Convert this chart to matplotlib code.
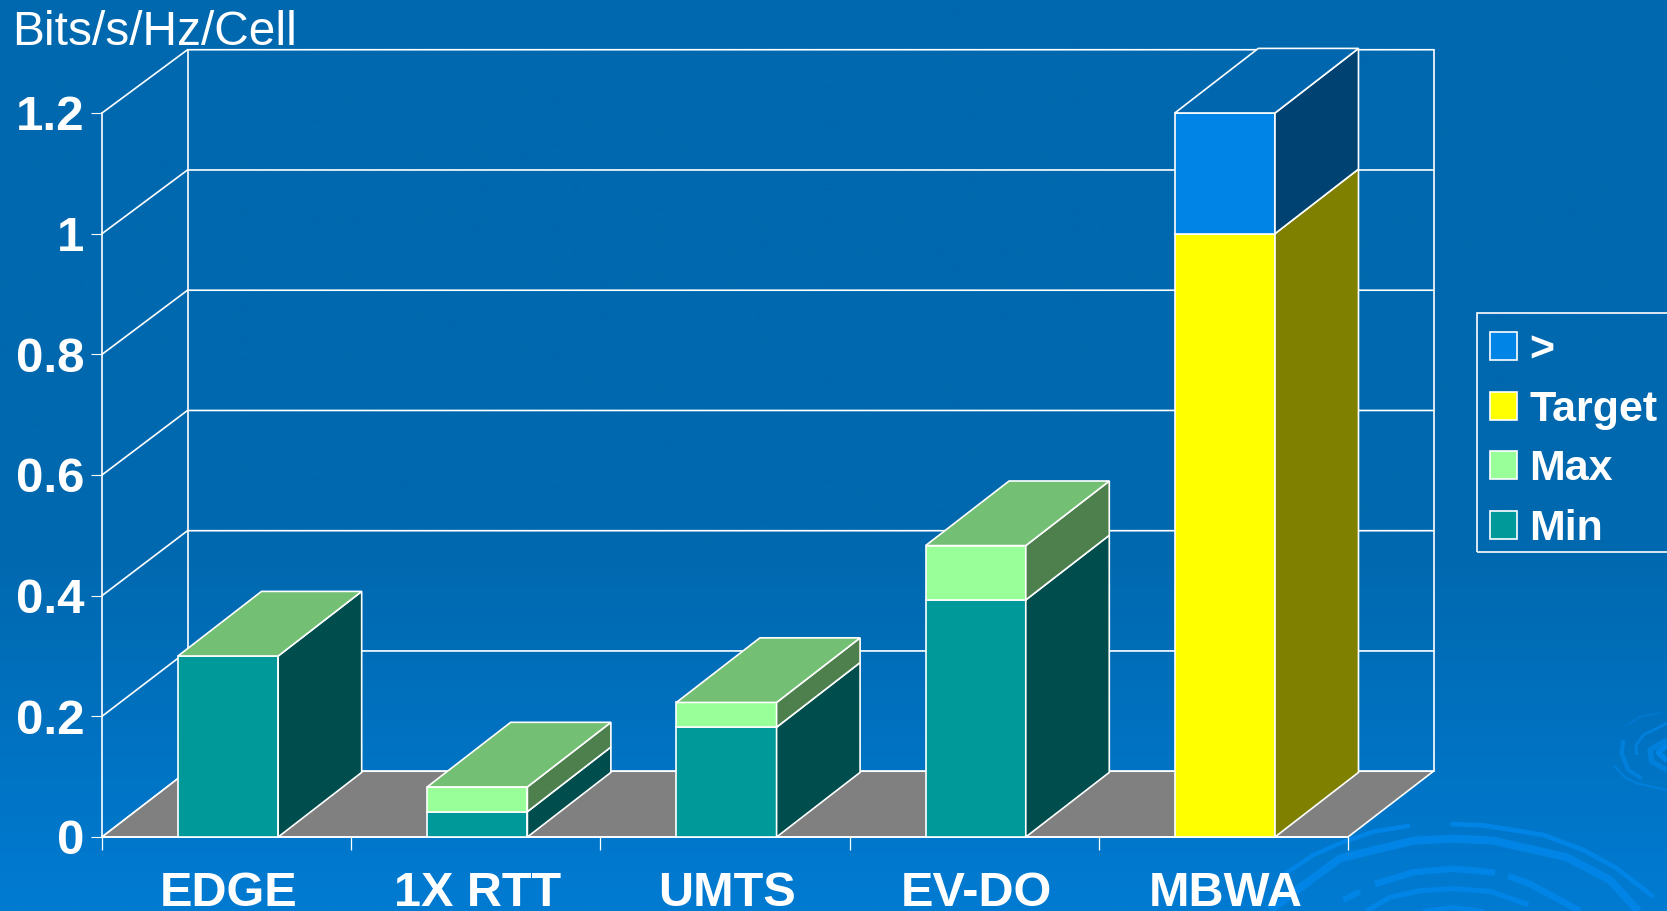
import numpy as np
import matplotlib
matplotlib.use("Agg")
import matplotlib.pyplot as plt
from matplotlib.patches import Polygon, Patch, Rectangle

# ---- data ----
categories = ["EDGE", "1X RTT", "UMTS", "EV-DO", "MBWA"]
min_top = [0.30, 0.042, 0.182, 0.393, 0.0]
max_top = [0.30, 0.083, 0.223, 0.483, 0.0]
target_top = [0.0, 0.0, 0.0, 0.0, 1.0]
beyond_top = [0.0, 0.0, 0.0, 0.0, 1.2]
y_ticks = [0, 0.2, 0.4, 0.6, 0.8, 1.0, 1.2]
y_tick_labels = ["0", "0.2", "0.4", "0.6", "0.8", "1", "1.2"]
series_names = ["Min", "Max", "Target", ">"]
series_values = [min_top, max_top, target_top, beyond_top]
front_colors = ["#009999", "#99FF99", "#FFFF00", "#0085E6"]
side_colors = ["#004D4D", "#4D804D", "#808000", "#004373"]
top_colors = ["#007373", "#73BF73", "#BFBF00", "#0066AD"]

W, H = 1667, 911
plt.rcParams["font.family"] = ["Liberation Sans", "DejaVu Sans"]
fig = plt.figure(figsize=(W / 100, H / 100), dpi=100)

# ---- gradient background and decorative ripples (pixel space) ----
bg = fig.add_axes([0, 0, 1, 1], zorder=0)
t = np.linspace(0, 1, 512)
grad = np.clip((t - 0.60) / 0.40, 0, 1).reshape(-1, 1, 1)
top_c = np.array([0x00, 0x68, 0xAE]) / 255
bot_c = np.array([0x00, 0x7B, 0xD2]) / 255
img = top_c[None, None, :] * (1 - grad) + bot_c[None, None, :] * grad
bg.imshow(img, extent=[0, W, H, 0], aspect="auto", interpolation="bilinear")
bg.set_xlim(0, W)
bg.set_ylim(H, 0)
bg.axis("off")

ripple_zoom = [
    ([602, 700, 880, 1000, 1100, 1210], [432, 436, 465, 510, 565, 650], 3.2),
    ([480, 370, 270, 190, 100], [437, 455, 490, 525, 585], 3.0),
    ([60, 270, 490, 610, 730, 950, 1080, 1165], [690, 535, 482, 476, 482, 532, 600, 693], 5.5),
    ([375, 490, 610, 735], [612, 577, 566, 578], 4.5),
    ([775, 840, 990], [588, 612, 693], 4.5),
    ([350, 420, 510, 610, 720, 835], [693, 652, 632, 626, 634, 674], 3.5),
    ([280, 330], [660, 635], 4.0),
    ([520, 610, 700], [693, 682, 693], 3.0),
]
ripple_right = [
    ([162, 195, 230, 321], [228, 262, 280, 300], 1.6, "#007FDB"),
    ([190, 185, 205, 245], [150, 190, 240, 265], 3.0, "#007FDB"),
    ([195, 240, 305], [110, 80, 68], 1.6, "#0077CC"),
    ([230, 228, 250, 321], [195, 165, 135, 100], 2.0, "#0080DC"),
    ([321, 270, 275, 321], [150, 180, 215, 240], 4.0, "#007FDB"),
    ([321, 295, 321], [165, 188, 212], 4.0, "#0085E6"),
]
for xs, ys, lw in ripple_zoom:
    bg.plot(1250 + np.array(xs) / 3, 680 + np.array(ys) / 3, color="#0085E6", lw=lw * 1.05, solid_capstyle="butt")
for xs, ys, lw, c in ripple_right:
    bg.plot(1560 + np.array(xs) / 3, 690 + np.array(ys) / 3, color=c, lw=lw, solid_capstyle="butt")

# ---- chart axes: the front plane of the 3-D box ----
L, R, B, T = 102, 1348, 837, 113
ax = fig.add_axes([L / W, (H - B) / H, (R - L) / W, (B - T) / H], zorder=1)
ax.patch.set_alpha(0)
ax.set_xlim(0, len(categories))
ax.set_ylim(0, 1.2)
DX = 85.5 / ((R - L) / 5)
DY = 65.8 / ((B - T) / 1.2)
BACK_SCALE = 0.9965
WHITE = "white"
LW = 1.2


def poly(points, color, z):
    ax.add_patch(Polygon(points, closed=True, facecolor=color, edgecolor=WHITE,
                         lw=LW, zorder=z, clip_on=False, joinstyle="miter"))


def line(xs, ys, z=1):
    ax.plot(xs, ys, color=WHITE, lw=LW, zorder=z, clip_on=False, solid_capstyle="projecting")


n = len(categories)
for v in y_ticks:
    by = v * BACK_SCALE + DY
    line([0, DX, n + DX], [v, by, by])
back_top = 1.2 * BACK_SCALE + DY
line([DX, DX], [DY, back_top])
line([n + DX, n + DX], [DY, back_top])
poly([(0, 0), (n, 0), (n + DX, DY), (DX, DY)], "#808080", 2)

BAR_W = 0.402
BAR_C = 0.506
BDX = 83.5 / ((R - L) / 5)
BDY = 64.6 / ((B - T) / 1.2)
for i in range(n):
    x0, x1 = i + BAR_C - BAR_W / 2, i + BAR_C + BAR_W / 2
    prev = 0.0
    top_color = None
    for vals, fc, sc, tc in zip(series_values, front_colors, side_colors, top_colors):
        v = vals[i]
        if v > 0:
            top_color = tc
        if v > prev:
            poly([(x0, prev), (x1, prev), (x1, v), (x0, v)], fc, 4)
            poly([(x1, prev), (x1 + BDX, prev + BDY), (x1 + BDX, v + BDY), (x1, v)], sc, 4)
            prev = v
    poly([(x0, prev), (x1, prev), (x1 + BDX, prev + BDY), (x0 + BDX, prev + BDY)], top_color, 4)

for s in ("top", "right"):
    ax.spines[s].set_visible(False)
for s in ("left", "bottom"):
    ax.spines[s].set_color(WHITE)
    ax.spines[s].set_linewidth(LW)
    ax.spines[s].set_zorder(3)

ax.set_yticks(y_ticks)
ax.set_yticklabels(y_tick_labels, fontsize=35.5, fontweight="bold", color=WHITE, va="center_baseline")
ax.tick_params(axis="y", length=8, width=0.8, color=WHITE, pad=4.5)
ax.set_xticks(np.arange(n + 1))
ax.set_xticklabels([])
ax.tick_params(axis="x", which="major", length=9.5, width=0.9, color=WHITE)
ax.set_xticks(np.arange(n) + 0.508, minor=True)
ax.set_xticklabels(categories, minor=True, fontsize=35, fontweight="bold", color=WHITE)
ax.tick_params(axis="x", which="minor", length=0, pad=24.5)

handles = [Patch(facecolor=front_colors[j], edgecolor=WHITE, lw=LW, label=series_names[j])
           for j in (3, 2, 1, 0)]
leg = fig.legend(handles=handles, loc="upper left", bbox_to_anchor=(1476 / W, 1 - 316 / H),
                 bbox_transform=fig.transFigure, frameon=False, labelcolor=WHITE,
                 handlelength=0.63, handleheight=0.63, handletextpad=0.28,
                 borderaxespad=0, borderpad=0.33, labelspacing=0.455,
                 prop={"size": 31, "weight": "bold"})
leg.set_zorder(5)
# legend frame runs off the right edge of the figure
fig.add_artist(Rectangle((1477 / W, 1 - 552 / H), 220 / W, 239 / H, transform=fig.transFigure,
                         facecolor="none", edgecolor=WHITE, lw=LW, zorder=5))

fig.text(12.5 / W, 1 - 45 / H, "Bits/s/Hz/Cell", fontsize=34.5, color=WHITE, va="baseline", ha="left", zorder=6)

fig.savefig("out.png", dpi=100)
